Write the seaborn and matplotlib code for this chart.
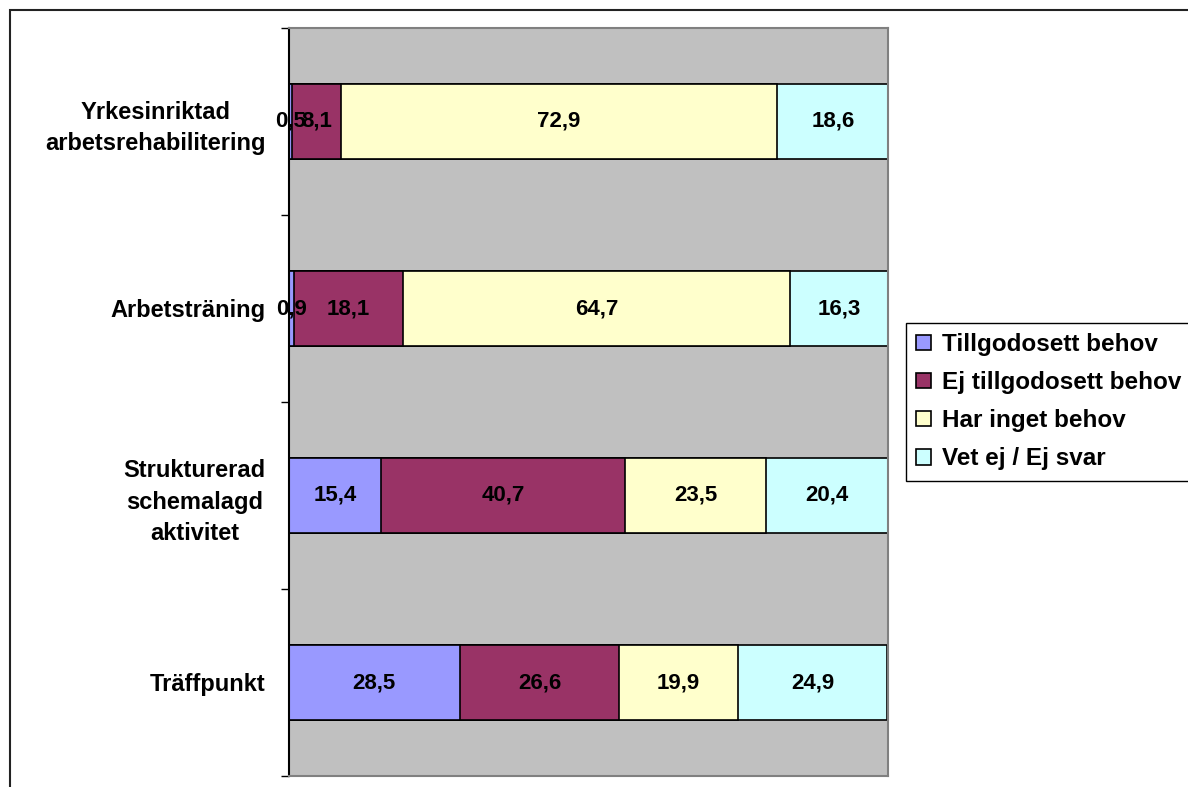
import numpy as np
import pandas as pd
import seaborn as sns
from matplotlib import pyplot as plt
from matplotlib.patches import Rectangle

# data (percent)
categories = ['Yrkesinriktad\narbetsrehabilitering', 'Arbetsträning',
              'Strukturerad\nschemalagd\naktivitet', 'Träffpunkt']
series = ['Tillgodosett behov', 'Ej tillgodosett behov', 'Har inget behov', 'Vet ej / Ej svar']
tillgodosett = [0.5, 0.9, 15.4, 28.5]
ej_tillgodosett = [8.1, 18.1, 40.7, 26.6]
inget_behov = [72.9, 64.7, 23.5, 19.9]
vet_ej = [18.6, 16.3, 20.4, 24.9]
colors = ['#9999FF', '#993366', '#FFFFCC', '#CCFFFF']

df = pd.DataFrame({'kategori': categories,
                   series[0]: tillgodosett, series[1]: ej_tillgodosett,
                   series[2]: inget_behov, series[3]: vet_ej})
vals = df[series].to_numpy()
cum = vals.cumsum(axis=1)

sns.set_style('white')
plt.rcParams['font.family'] = ['Liberation Sans', 'DejaVu Sans']
plt.rcParams['font.weight'] = 'bold'
plt.rcParams['text.color'] = 'black'
plt.rcParams['ytick.color'] = 'black'
plt.rcParams['ytick.labelcolor'] = 'black'

fig = plt.figure(figsize=(11.88, 7.87), dpi=100)
ax = fig.add_axes([289 / 1188, 1 - 776 / 787, 599 / 1188, 748 / 787])
ax.set_facecolor('#C0C0C0')

# stacked bars: draw cumulative totals from the last series backwards
for i in range(len(series) - 1, -1, -1):
    sns.barplot(x=cum[:, i], y=df['kategori'], orient='h', color=colors[i],
                width=0.4, edgecolor='black', linewidth=1.2, saturation=1,
                ax=ax, label=series[i])

handles, labels = ax.get_legend_handles_labels()
if ax.get_legend() is not None:
    ax.get_legend().remove()

# labels centred in each segment
for r in range(len(categories)):
    for i in range(len(series)):
        xc = cum[r, i] - vals[r, i] / 2
        ax.text(xc, r, f'{vals[r, i]:.1f}'.replace('.', ','), ha='center', va='center',
                fontsize=16, fontweight='bold', color='black')

ax.set_xlim(0, 100)
ax.set_ylim(len(categories) - 0.5, -0.5)
ax.set_xticks([])
ax.set_xlabel('')
ax.set_ylabel('')

bounds = np.arange(len(categories) + 1) - 0.5
ax.set_yticks(bounds)
ax.set_yticklabels([''] * len(bounds))
ax.set_yticks(range(len(categories)), minor=True)
ax.set_yticklabels(categories, minor=True, fontsize=17, fontweight='bold',
                   multialignment='center', color='black', linespacing=1.45)
ax.tick_params(axis='y', which='major', length=6, width=1, color='black', direction='out', left=True)
ax.tick_params(axis='y', which='minor', length=0, pad=17)

for s in ['top', 'right', 'bottom']:
    ax.spines[s].set_color('#808080')
    ax.spines[s].set_linewidth(1.5)
ax.spines['left'].set_color('black')
ax.spines['left'].set_linewidth(1.5)

# legend in series order
order = [labels.index(s) for s in series]
leg = fig.legend([handles[k] for k in order], series,
                 loc='upper left', bbox_to_anchor=(906 / 1188, 1 - 323 / 787),
                 bbox_transform=fig.transFigure, fontsize=17.5, frameon=True,
                 fancybox=False, shadow=False, framealpha=1, edgecolor='black',
                 handlelength=0.6, handleheight=0.6, handletextpad=0.45,
                 labelspacing=0.62, borderpad=0.42, borderaxespad=0)
leg.get_frame().set_linewidth(1)
for t in leg.get_texts():
    t.set_fontweight('bold')
    t.set_color('black')

# outer chart border
fig.patches.append(Rectangle((10 / 1188, -0.1), 1.2, 1.1 - 10 / 787, transform=fig.transFigure,
                             fill=False, edgecolor='#222222', linewidth=1.5))

fig.savefig('out.png', dpi=100)
